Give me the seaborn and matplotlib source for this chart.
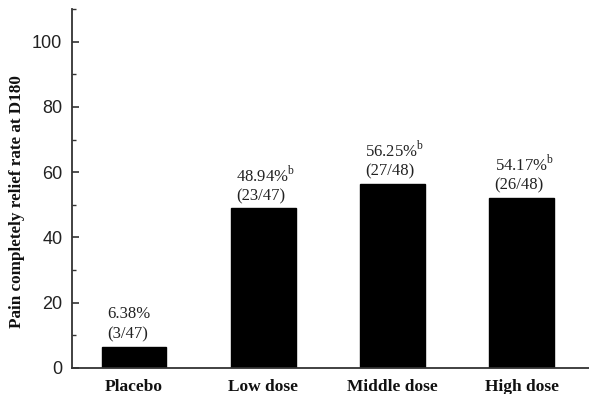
import matplotlib
matplotlib.use("Agg")
import matplotlib.pyplot as plt
import seaborn as sns
import pandas as pd
from matplotlib.ticker import MultipleLocator

categories = ["Placebo", "Low dose", "Middle dose", "High dose"]
bar_values = [6.38, 48.9, 56.4, 52.1]
pct_labels = ["6.38%", "48.94%", "56.25%", "54.17%"]
count_labels = ["(3/47)", "(23/47)", "(27/48)", "(26/48)"]
sup_labels = ["", "b", "b", "b"]

sns.set_theme(style="ticks")
plt.rcParams["font.family"] = ["Liberation Serif", "DejaVu Serif"]
plt.rcParams["mathtext.fontset"] = "custom"
plt.rcParams["mathtext.rm"] = "Liberation Serif"
plt.rcParams["ytick.direction"] = "in"
plt.rcParams["xtick.direction"] = "in"

df = pd.DataFrame({"group": categories, "value": bar_values})

fig = plt.figure(figsize=(5.89, 3.94), dpi=100)
ax = fig.add_axes([0.1222, 0.066, 0.8778, 0.911])
sns.barplot(data=df, x="group", y="value", color="black", width=0.5,
            saturation=1, ax=ax, edgecolor="black")

ax.set_xlim(-0.48, 3.52)
ax.set_ylim(0, 110)
ax.yaxis.set_major_locator(MultipleLocator(20))
ax.yaxis.set_minor_locator(MultipleLocator(10))
ax.tick_params(axis="y", which="major", direction="in", length=5, width=1.2,
               labelsize=13, pad=7, colors="#333333", labelcolor="#222222")
ax.tick_params(axis="y", which="minor", direction="in", length=3, width=1.0,
               colors="#333333")
ax.tick_params(axis="x", length=0, pad=8)
for lab in ax.get_yticklabels():
    lab.set_family(["Liberation Sans", "DejaVu Sans"])
for lab in ax.get_xticklabels():
    lab.set_fontweight("bold")
    lab.set_fontsize(12.5)
    lab.set_color("#111111")
    lab.set_family(["Liberation Serif", "DejaVu Serif"])

ax.set_xlabel("")
ax.set_ylabel("Pain completely relief rate at D180", fontsize=12.3,
              fontweight="bold", color="#111111")
ax.yaxis.set_label_coords(-0.09, 0.465)
sns.despine(ax=ax)
for s in ["left", "bottom"]:
    ax.spines[s].set_linewidth(1.3)
    ax.spines[s].set_color("#333333")

for i, (v, p, c, s) in enumerate(zip(bar_values, pct_labels, count_labels, sup_labels)):
    x0 = i - 0.25 + 0.04
    ax.text(x0, v + 3.8, c, fontsize=12, ha="left", va="center", color="#222222")
    top = p + (r"$^{\mathrm{" + s + "}}$" if s else "")
    ax.text(x0, v + 10.3, top, fontsize=12, ha="left", va="center", color="#222222")

fig.savefig("out.png", dpi=100)
